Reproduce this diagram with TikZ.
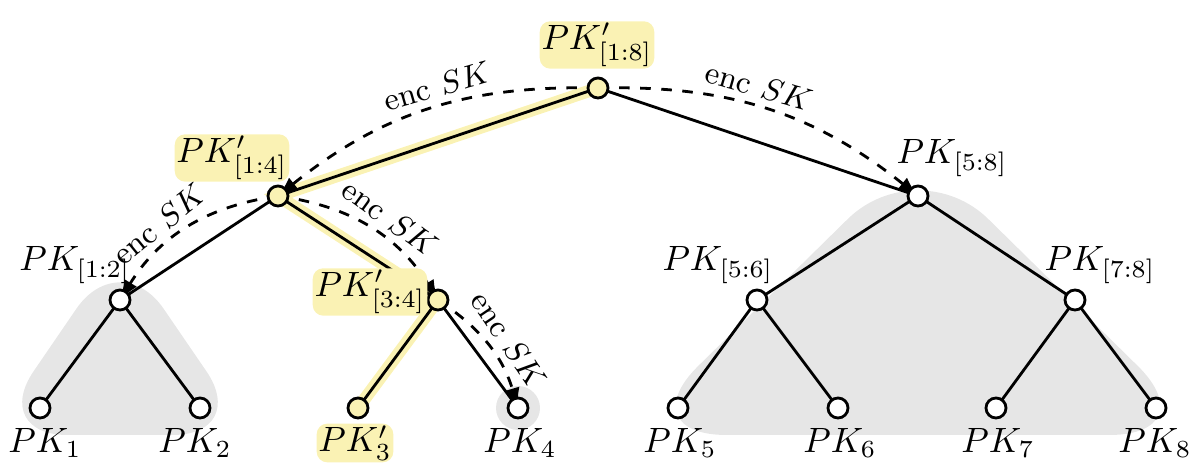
\documentclass[tikz,border=0pt]{standalone}
\usetikzlibrary{arrows.meta}
\definecolor{hl}{RGB}{250,242,180}
\definecolor{hull}{RGB}{230,230,230}
\tikzset{
  vtx/.style={circle,draw,thick,fill=white,minimum size=0.2cm,inner sep=0pt},
  vtxh/.style={vtx,fill=hl},
  lbl/.style={font=\normalsize,inner sep=1pt},
  lblh/.style={lbl,fill=hl,rounded corners=3pt,inner sep=0.5pt},
  edge/.style={thick},
  edgeh/.style={line width=3.5pt,hl},
  enc/.style={thick,dashed,-{Latex[length=2mm]}},
  enclbl/.style={font=\small,sloped,above=1pt,inner sep=1pt}
}
\begin{document}
\begin{tikzpicture}[x=0.01cm,y=-0.01cm]
  \useasboundingbox (0,0) rectangle (1200,471);
  % gray hulls
  \fill[hull,rounded corners=22pt] (120,245) -- (-10,435) -- (250,435) -- cycle;
  \fill[hull] (518,408) circle (22);
  \fill[hull,rounded corners=28pt] (918,150) -- (628,435) -- (1208,435) -- cycle;
  % nodes
  \coordinate (r) at (598,88);
  \coordinate (a) at (278,196);
  \coordinate (b) at (918,196);
  \coordinate (c) at (120,300);
  \coordinate (d) at (438,300);
  \coordinate (e) at (757,300);
  \coordinate (f) at (1075,300);
  \foreach \n/\x in {1/40,2/200,3/358,4/518,5/678,6/838,7/996,8/1156}
    \coordinate (l\n) at (\x,408);
  % highlighted path
  \draw[edgeh] (r) -- (a) -- (d) -- (l3);
  \draw[edge] (r) -- (a);
  \draw[edge] (r) -- (b);
  \draw[edge] (a) -- (c);
  \draw[edge] (a) -- (d);
  \draw[edge] (c) -- (l1);
  \draw[edge] (c) -- (l2);
  \draw[edge] (d) -- (l3);
  \draw[edge] (d) -- (l4);
  \draw[edge] (b) -- (e);
  \draw[edge] (b) -- (f);
  \draw[edge] (e) -- (l5);
  \draw[edge] (e) -- (l6);
  \draw[edge] (f) -- (l7);
  \draw[edge] (f) -- (l8);
  % encryption arrows
  \draw[enc] (r) to[bend right=20] node[enclbl,pos=0.45] {enc $SK$} (a);
  \draw[enc] (r) to[bend left=20] node[enclbl,pos=0.45] {enc $SK$} (b);
  \draw[enc] (a) to[bend right=25] node[enclbl,pos=0.6] {enc $SK$} (c);
  \draw[enc] (a) to[bend left=25] node[enclbl,pos=0.55] {enc $SK$} (d);
  \draw[enc] (d) to[bend left=20] node[enclbl,pos=0.55] {enc $SK$} (l4);
  % vertices
  \node[vtxh] (rn) at (r) {};
  \node[vtxh] (an) at (a) {};
  \node[vtx] (bn) at (b) {};
  \node[vtx] (cn) at (c) {};
  \node[vtxh] (dn) at (d) {};
  \node[vtx] (en) at (e) {};
  \node[vtx] (fn) at (f) {};
  \foreach \n in {1,2,4,5,6,7,8}
    \node[vtx] (l\n n) at (l\n) {};
  \node[vtxh] (l3n) at (l3) {};
  % labels
  \node[lblh] (tr) at (597,45) {$PK'_{[1:8]}$};
  \node[lblh] (ta) at (232,158) {$PK'_{[1:4]}$};
  \node[lbl] (tb) at (952,158) {$PK_{[5:8]}$};
  \node[lbl] (tc) at (75,265) {$PK_{[1:2]}$};
  \node[lblh] (td) at (370,292) {$PK'_{[3:4]}$};
  \node[lbl] (te) at (718,265) {$PK_{[5:6]}$};
  \node[lbl] (tf) at (1100,265) {$PK_{[7:8]}$};
  \foreach \n/\x in {1/45,2/195,4/520,5/680,6/840,7/998,8/1155}
    \node[lbl] (t\n) at (\x,443) {$PK_{\n}$};
  \node[lblh] (t3) at (355,443) {$PK'_{3}$};
\end{tikzpicture}
\end{document}
